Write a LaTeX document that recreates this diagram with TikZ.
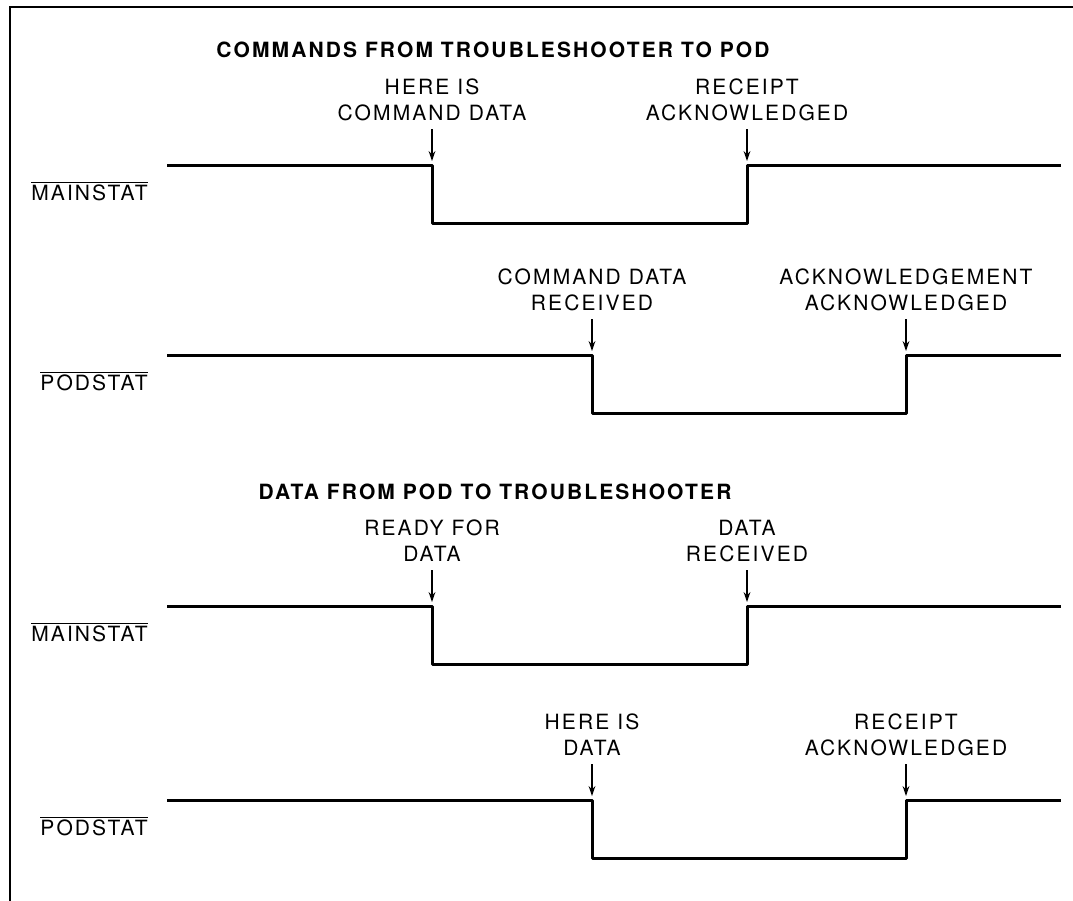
\documentclass[tikz,border=0pt]{standalone}
\usepackage{fontspec}
\setmainfont{TeX Gyre Heros}[LetterSpace=10]
\usetikzlibrary{arrows.meta}

\tikzset{
  wave/.style={line width=1.5pt, line join=round},
  pointer/.style={-{Stealth[length=5pt,width=3.4pt]}, line width=0.7pt, shorten <=3pt},
  event/.style={align=center, inner sep=1pt, font=\fontsize{10.5}{13}\selectfont},
  signame/.style={anchor=east, inner sep=1pt, font=\fontsize{10.5}{13}\selectfont},
  heading/.style={inner sep=1pt, font=\fontsize{10.5}{13}\selectfont\bfseries},
  frame/.style={line width=1.2pt}
}

\begin{document}
\begin{tikzpicture}[x=0.5pt,y=-0.5pt]
  \useasboundingbox (0,0) rectangle (1073,901);
  \draw[frame] (1073,7) -- (10,7) -- (10,901);

  % Commands from troubleshooter to pod
  \node[heading] (title1) at (493,50) {COMMANDS FROM TROUBLESHOOTER TO POD};

  % First MAINSTAT trace
  \node[signame] (main1) at (150,191) {$\overline{\mbox{MAINSTAT}}$};
  \draw[wave] (167,165) -- (432,165) -- (432,223) -- (747,223) -- (747,165) -- (1061,165);
  \node[event] (cmd1) at (432,100) {HERE IS\\COMMAND DATA};
  \coordinate (cmd1tip) at (432,161);
  \draw[pointer] (cmd1.south) -- (cmd1tip);
  \node[event] (ack1) at (747,100) {RECEIPT\\ACKNOWLEDGED};
  \coordinate (ack1tip) at (747,161);
  \draw[pointer] (ack1.south) -- (ack1tip);

  % First PODSTAT trace
  \node[signame] (pod1) at (150,381) {$\overline{\mbox{PODSTAT}}$};
  \draw[wave] (167,355) -- (592,355) -- (592,413) -- (906,413) -- (906,355) -- (1061,355);
  \node[event] (rcv1) at (592,290) {COMMAND DATA\\RECEIVED};
  \coordinate (rcv1tip) at (592,351);
  \draw[pointer] (rcv1.south) -- (rcv1tip);
  \node[event] (ackack) at (906,290) {ACKNOWLEDGEMENT\\ACKNOWLEDGED};
  \coordinate (ackacktip) at (906,351);
  \draw[pointer] (ackack.south) -- (ackacktip);

  % Data from pod to troubleshooter
  \node[heading] (title2) at (495,492) {DATA FROM POD TO TROUBLESHOOTER};

  % Second MAINSTAT trace
  \node[signame] (main2) at (150,632) {$\overline{\mbox{MAINSTAT}}$};
  \draw[wave] (167,606) -- (432,606) -- (432,664) -- (747,664) -- (747,606) -- (1061,606);
  \node[event] (ready) at (432,541) {READY FOR\\DATA};
  \coordinate (readytip) at (432,602);
  \draw[pointer] (ready.south) -- (readytip);
  \node[event] (rcv2) at (747,541) {DATA\\RECEIVED};
  \coordinate (rcv2tip) at (747,602);
  \draw[pointer] (rcv2.south) -- (rcv2tip);

  % Second PODSTAT trace
  \node[signame] (pod2) at (150,826) {$\overline{\mbox{PODSTAT}}$};
  \draw[wave] (167,800) -- (592,800) -- (592,858) -- (906,858) -- (906,800) -- (1061,800);
  \node[event] (data2) at (592,735) {HERE IS\\DATA};
  \coordinate (data2tip) at (592,796);
  \draw[pointer] (data2.south) -- (data2tip);
  \node[event] (ack2) at (906,735) {RECEIPT\\ACKNOWLEDGED};
  \coordinate (ack2tip) at (906,796);
  \draw[pointer] (ack2.south) -- (ack2tip);
\end{tikzpicture}
\end{document}
